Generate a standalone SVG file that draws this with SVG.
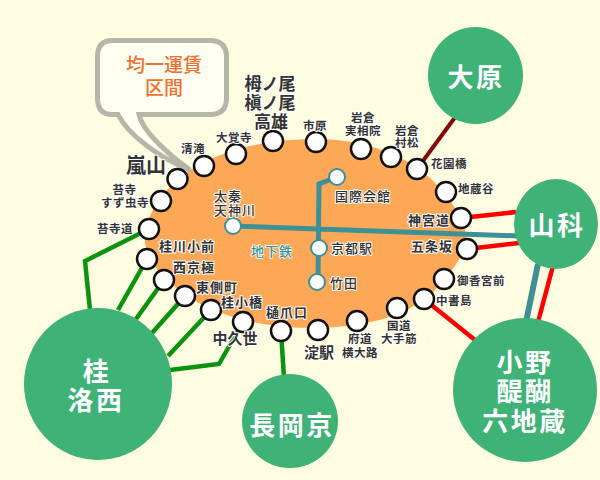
<svg xmlns="http://www.w3.org/2000/svg" width="600" height="480" viewBox="0 0 600 480">
<style>
text{font-family:"Noto Sans CJK JP","Noto Sans",sans-serif;text-anchor:middle;font-weight:700;fill:#333;stroke:#fff;stroke-width:2;paint-order:stroke;stroke-linejoin:round}
.s{font-size:11.500px;letter-spacing:.5px}
.m{font-size:13px;letter-spacing:1px}
.l{font-size:17px;font-weight:700}
.b{font-weight:700;fill:#fff;stroke:none;font-size:26px;letter-spacing:2.500px}
.st{fill:#fff;stroke:#111;stroke-width:2.500}
.su{fill:#fff;stroke:#3c9096;stroke-width:2}
.g{fill:none;stroke:#0a930f;stroke-width:4.500}
.r{fill:none;stroke:#f00;stroke-width:4.500}
.t{fill:none;stroke:#3c9096;stroke-width:5}
.c{fill:#3eb277}
</style>
<rect width="600" height="480" fill="#fffde1"/>
<path id="area" d="M145 240C146 213 162 190 190 170C222 150 265 139 316 139C365 139 405 155 430 178C448 195 466 220 466 236C466 255 448 278 430 295C405 316 365 328 310 328C260 328 220 315 197 302C170 287 145 262 145 240Z" fill="#fda857"/>
<g id="connectors">
<path class="g" d="M149 229L85 261L90 310"/>
<path class="g" d="M147 259L118 310M164 280L136 319M185 296L152 333M211 310L168 356"/>
<path class="g" d="M243 322L219 364L170 370"/>
<path class="g" d="M281 331L284 378"/>
<path class="r" d="M461 218L516 212M467 249L519 243M424 299L480 344M553 266L538 322"/>
<path class="t" d="M538 264L526 322" style="stroke-width:6"/>
<path d="M417 169L456 116" fill="none" stroke="#850b0b" stroke-width="4"/>
<path class="t" d="M233 226L520 236M337 177L319 184L318 282"/>
</g>
<g id="callout">
<path d="M112 40.500H210Q226.500 40.500 226.500 57V98Q226.500 114.500 210 114.500H139C142 130 165 152 190 170C160 158 128 135 118 114.500H112Q97.500 114.500 97.500 98V57Q97.500 40.500 112 40.500Z" fill="#fffff2" stroke="#b5b5a8" stroke-width="5"/>
<text x="164" y="72" style="font-size:19px;font-weight:500;fill:#ee7030;stroke:none">均一運賃</text>
<text x="164" y="95" style="font-size:19px;font-weight:500;fill:#ee7030;stroke:none">区間</text>
</g>
<g id="arashiyama"><circle class="st" cx="177.500" cy="179" r="10"/><text x="146" y="173" style="font-size:20px">嵐山</text></g>
<g id="kiyotaki"><circle class="st" cx="204" cy="166" r="10"/><text class="s" x="193" y="153">清滝</text></g>
<g id="daikakuji"><circle class="st" cx="236" cy="154" r="10"/><text class="s" x="234" y="142">大覚寺</text></g>
<g id="takao"><circle class="st" cx="273" cy="141" r="10"/><text class="l" x="270" y="90">栂ノ尾</text><text class="l" x="270" y="109">槇ノ尾</text><text class="l" x="271" y="128">高雄</text></g>
<g id="ichihara"><circle class="st" cx="316" cy="142" r="10"/><text class="s" x="315" y="130">市原</text></g>
<g id="iwakura1"><circle class="st" cx="361" cy="149" r="10"/><text class="s" x="363" y="122">岩倉</text><text class="s" x="363" y="135">実相院</text></g>
<g id="iwakura2"><circle class="st" cx="391" cy="157" r="10"/><text class="s" x="407" y="135">岩倉</text><text class="s" x="407" y="147">村松</text></g>
<g id="hanazono"><circle class="st" cx="417" cy="169" r="10"/><text class="s" x="449" y="168">花園橋</text></g>
<g id="jizodani"><circle class="st" cx="446" cy="192" r="10"/><text class="s" x="476" y="193">地蔵谷</text></g>
<g id="jingumichi"><circle class="st" cx="461" cy="218" r="10"/><text class="m" x="429" y="225">神宮道</text></g>
<g id="gojozaka"><circle class="st" cx="467" cy="249" r="10"/><text class="m" x="432" y="251">五条坂</text></g>
<g id="gokonomiya"><circle class="st" cx="444" cy="279" r="10"/><text class="s" x="481" y="285">御香宮前</text></g>
<g id="chushojima"><circle class="st" cx="424" cy="299" r="10"/><text class="s" x="454" y="305">中書島</text></g>
<g id="kokudo"><circle class="st" cx="397" cy="308" r="10"/><text class="s" x="399" y="330">国道</text><text class="s" x="399" y="343">大手筋</text></g>
<g id="fudo"><circle class="st" cx="357" cy="321" r="10"/><text class="s" x="360" y="343">府道</text><text class="s" x="360" y="357">横大路</text></g>
<g id="yodo"><circle class="st" cx="318" cy="330" r="10"/><text x="319" y="358" style="font-size:15px">淀駅</text></g>
<g id="hizumeguchi"><circle class="st" cx="281" cy="331" r="10"/><text class="m" x="287" y="317">樋爪口</text></g>
<g id="nakakuze"><circle class="st" cx="243" cy="322" r="10"/><text x="235" y="344" style="font-size:15px">中久世</text></g>
<g id="katsurakobashi"><circle class="st" cx="211" cy="310" r="10"/><text class="m" x="242" y="307">桂小橋</text></g>
<g id="higashigawa"><circle class="st" cx="185" cy="296" r="10"/><text class="m" x="217" y="292">東側町</text></g>
<g id="nishikyogoku"><circle class="st" cx="164" cy="280" r="10"/><text class="m" x="194" y="272">西京極</text></g>
<g id="katsuragawa"><circle class="st" cx="147" cy="259" r="10"/><text class="m" x="187" y="251">桂川小前</text></g>
<g id="kokedera-michi"><circle class="st" cx="149" cy="229" r="10"/><text class="s" x="115" y="233">苔寺道</text></g>
<g id="kokedera"><circle class="st" cx="161" cy="201" r="10"/><text class="s" x="124.500" y="194">苔寺</text><text class="s" x="125" y="207">すず虫寺</text></g>
<g id="uzumasa"><circle class="su" cx="233" cy="226" r="8"/><text class="m" x="228" y="201" style="font-weight:500">太秦</text><text class="m" x="235" y="215" style="font-weight:500">天神川</text></g>
<g id="kokusai"><circle class="su" cx="337" cy="177" r="8"/><text class="m" x="363" y="201" style="font-weight:500">国際会館</text></g>
<g id="kyoto"><circle class="su" cx="319" cy="248" r="8"/><text class="m" x="352" y="253" style="font-weight:500">京都駅</text></g>
<g id="takeda"><circle class="su" cx="317" cy="282" r="8"/><text class="m" x="344" y="288" style="font-weight:500">竹田</text></g>
<text x="272" y="256" class="m" style="font-weight:500;fill:#3c9096;stroke:#fff;stroke-width:1.500">地下鉄</text>
<g id="ohara"><ellipse class="c" cx="475.500" cy="75.500" rx="47.500" ry="48.500"/><text class="b" x="476" y="87">大原</text></g>
<g id="yamashina"><ellipse class="c" cx="556" cy="224" rx="42" ry="45"/><text class="b" x="557" y="235">山科</text></g>
<g id="ono"><circle class="c" cx="525" cy="390" r="72"/><text class="b" x="525" y="372">小野</text><text class="b" x="525" y="401">醍醐</text><text class="b" x="525" y="431">六地蔵</text></g>
<g id="katsura"><ellipse class="c" cx="98" cy="384" rx="74" ry="76"/><text class="b" x="97" y="381">桂</text><text class="b" x="96" y="410">洛西</text></g>
<g id="nagaokakyo"><ellipse class="c" cx="290" cy="421" rx="48" ry="47"/><text class="b" x="292" y="435">長岡京</text></g>
</svg>
